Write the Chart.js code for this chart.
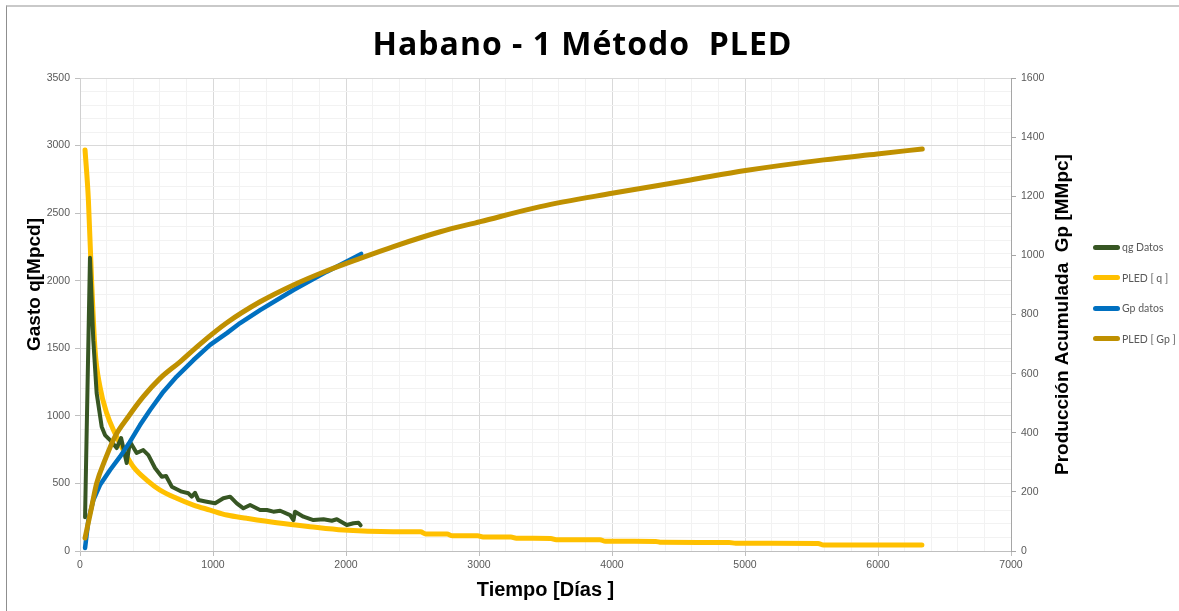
<!DOCTYPE html>
<html lang="es">
<head>
<meta charset="utf-8">
<title>Habano - 1 Método PLED</title>
<script src="https://cdn.jsdelivr.net/npm/chart.js@4.4.1/dist/chart.umd.min.js"></script>
<style>
  html, body { margin: 0; padding: 0; background: #fff; }
  #wrap { position: relative; width: 1179px; height: 611px; overflow: hidden; }
  #chart { position: absolute; left: 0; top: 0; }
  #frame {
    position: absolute; left: 6px; top: 5px; right: -10px; bottom: -10px;
    border-left: 1px solid #8f8f8f; border-top: 2px solid #c9c9c9;
    pointer-events: none;
  }
  #legend {
    position: absolute; left: 1093px; top: 240px;
    list-style: none; margin: 0; padding: 0;
    font: 10.5px Lato, "Liberation Sans", sans-serif; color: #595959;
  }
  #legend li { height: 30.5px; line-height: 14px; display: flex; align-items: flex-start; }
  #legend .swatch { width: 27px; height: 5px; border-radius: 3px; margin: 4.5px 2px 0 0; }
</style>
</head>
<body>
<div id="wrap">
  <canvas id="chart" width="1179" height="611"></canvas>
  <div id="frame"></div>
  <ul id="legend"></ul>
</div>
<script>
// qg Datos: measured gas rate [Mpcd] vs days
const qgDias = [38, 75, 100, 125, 163, 188, 226, 276, 309, 351, 376, 426, 476, 514, 564, 615, 647, 690,
  765, 815, 840, 865, 890, 953, 1016, 1078, 1129, 1179, 1229, 1279, 1354, 1405, 1454, 1505, 1580,
  1605, 1617, 1680, 1755, 1831, 1893, 1931, 2006, 2056, 2094, 2110];
const qgDatos = [250, 2170, 1560, 1170, 920, 858, 821, 762, 836, 651, 809, 725, 747, 710, 614, 550, 555, 476,
  439, 427, 402, 431, 377, 365, 353, 390, 402, 353, 316, 340, 303, 303, 291, 298, 266,
  229, 291, 254, 229, 235, 224, 235, 192, 205, 209, 190];

// PLED [ q ]: fitted rate [Mpcd]
const pledQDias = [38, 63, 88, 113, 150, 201, 263, 326, 401, 502, 602, 727, 853, 978, 1104, 1254, 1480,
  1730, 1981, 2357, 2560, 2600, 2760, 2800, 2990, 3030, 3240, 3280, 3540, 3580, 3910, 3950,
  4330, 4370, 4880, 4930, 5550, 5590, 6330];
const pledQ = [2967, 2600, 1983, 1490, 1216, 1019, 871, 747, 624, 525, 451, 390, 340, 303, 266, 242, 209,
  180, 155, 143, 142, 126, 125, 113, 112, 104, 103, 94, 93, 84, 83, 72,
  71, 64, 63, 57, 56, 44, 44];

// Gp datos: measured cumulative production [MMpc]
const gpDias = [38, 63, 100, 150, 226, 301, 376, 451, 527, 627, 727, 853, 978, 1104, 1204, 1354, 1605,
  1856, 2114];
const gpDatos = [10, 105, 172, 223, 274, 319, 370, 426, 477, 539, 590, 646, 697, 737, 771, 815, 883,
  945, 1005];

// PLED [ Gp ]: fitted cumulative production [MMpc]
const pledGpDias = [38, 88, 125, 188, 263, 363, 476, 602, 752, 903, 1104, 1354, 1605, 1856, 2107, 2357,
  2709, 3010, 3461, 4000, 4590, 5004, 5593, 5994, 6333];
const pledGp = [44, 150, 229, 308, 387, 454, 522, 584, 640, 700, 772, 843, 900, 948, 990, 1030,
  1080, 1114, 1165, 1210, 1255, 1287, 1323, 1343, 1360];

const titulo = 'Habano - 1 Método  PLED';
const nombres = ['qg Datos', 'PLED [ q ]', 'Gp datos', 'PLED [ Gp ]'];
const colores = ['#375623', '#FFC000', '#0070C0', '#BF9000'];

// labelled ticks; the rest of the ticks only carry minor grid lines
const diasTicks = [0, 1000, 2000, 3000, 4000, 5000, 6000, 7000];
const gastoTicks = [0, 500, 1000, 1500, 2000, 2500, 3000, 3500];
const gpTicks = [0, 200, 400, 600, 800, 1000, 1200, 1400, 1600];

const toXY = (xs, ys) => xs.map((x, i) => ({ x, y: ys[i] }));

const tickFont = { family: '"Liberation Sans", Arial, sans-serif', size: 10.5 };
const tickGray = '#595959';
const isMajor = (c, list) => c.tick && list.includes(c.tick.value);

// chart title (sits a bit right of the plot centre) and the two rotated value-axis titles
const titulos = {
  id: 'titulos',
  afterDraw(chart) {
    const { ctx, chartArea } = chart;
    const midX = (chartArea.left + chartArea.right) / 2;
    const midY = (chartArea.top + chartArea.bottom) / 2;
    ctx.save();
    ctx.fillStyle = '#000';
    ctx.textAlign = 'center';

    ctx.font = 'bold 32px "Open Sans", Lato, sans-serif';
    ctx.letterSpacing = '1px';
    ctx.textBaseline = 'alphabetic';
    ctx.fillText(titulo, midX + 37, chartArea.top - 23);
    ctx.letterSpacing = '0px';

    ctx.font = 'bold 19px "Liberation Sans", Arial, sans-serif';
    ctx.textBaseline = 'middle';
    [[chartArea.left - 45, midY - 30, 'Gasto q[Mpcd]'],
     [chartArea.right + 52, midY, 'Producción Acumulada  Gp [MMpc]']].forEach(([x, y, t]) => {
      ctx.save();
      ctx.translate(x, y);
      ctx.rotate(-Math.PI / 2);
      ctx.fillText(t, 0, 0);
      ctx.restore();
    });
    ctx.restore();
  }
};

const ctx = document.getElementById('chart').getContext('2d');
const chart = new Chart(ctx, {
  type: 'line',
  data: {
    datasets: [
      { label: nombres[0], data: toXY(qgDias, qgDatos), yAxisID: 'y', borderColor: colores[0], borderWidth: 4, order: 2 },
      { label: nombres[1], data: toXY(pledQDias, pledQ), yAxisID: 'y', borderColor: colores[1], borderWidth: 5, order: 3,
        cubicInterpolationMode: 'monotone' },
      { label: nombres[2], data: toXY(gpDias, gpDatos), yAxisID: 'y1', borderColor: colores[2], borderWidth: 4.5, order: 1 },
      { label: nombres[3], data: toXY(pledGpDias, pledGp), yAxisID: 'y1', borderColor: colores[3], borderWidth: 5, order: 0,
        cubicInterpolationMode: 'monotone' }
    ]
  },
  options: {
    responsive: false,
    animation: false,
    events: [],
    elements: {
      point: { radius: 0 },
      line: { tension: 0, borderCapStyle: 'round', borderJoinStyle: 'round', fill: false }
    },
    layout: { padding: { left: 0, right: 98, top: 78, bottom: 0 } },
    plugins: {
      legend: { display: false },
      tooltip: { enabled: false },
      title: { display: false }
    },
    scales: {
      x: {
        type: 'linear', min: 0, max: 7000,
        ticks: {
          stepSize: 200, autoSkip: false, maxRotation: 0, padding: 3,
          color: tickGray, font: tickFont,
          callback: v => diasTicks.includes(v) ? v : ''
        },
        grid: {
          color: c => isMajor(c, diasTicks) ? '#d9d9d9' : '#f2f2f2',
          tickColor: c => isMajor(c, diasTicks) ? '#bfbfbf' : 'rgba(0,0,0,0)',
          tickLength: 5
        },
        border: { color: '#bfbfbf' },
        title: {
          display: true, text: 'Tiempo [Días ]', color: '#000',
          font: { family: '"Liberation Sans Narrow", "Arial Narrow", "Liberation Sans", sans-serif', size: 20, weight: 'bold' },
          padding: { top: 0, bottom: 9 }
        },
        afterFit: s => { s.height = 60; }
      },
      y: {
        position: 'left', min: 0, max: 3500,
        ticks: {
          stepSize: 100, autoSkip: false, padding: 5,
          color: tickGray, font: tickFont,
          callback: v => gastoTicks.includes(v) ? v : ''
        },
        grid: {
          color: c => isMajor(c, gastoTicks) ? '#d9d9d9' : '#f2f2f2',
          tickColor: c => isMajor(c, gastoTicks) ? '#bfbfbf' : 'rgba(0,0,0,0)',
          tickLength: 5
        },
        border: { color: '#d0d0d0' },
        afterFit: s => { s.width = 80; }
      },
      y1: {
        position: 'right', min: 0, max: 1600,
        ticks: {
          stepSize: 200, autoSkip: false, padding: 5,
          color: tickGray, font: tickFont,
          callback: v => gpTicks.includes(v) ? v : ''
        },
        grid: { drawOnChartArea: false, tickColor: '#a6a6a6', tickLength: 5 },
        border: { color: '#a6a6a6' },
        afterFit: s => { s.width = 70; }
      }
    }
  },
  plugins: [titulos]
});

// legend beside the right axis
document.getElementById('legend').innerHTML = nombres.map((n, i) =>
  `<li><span class="swatch" style="background:${colores[i]}"></span>${n}</li>`
).join('');
</script>
</body>
</html>
